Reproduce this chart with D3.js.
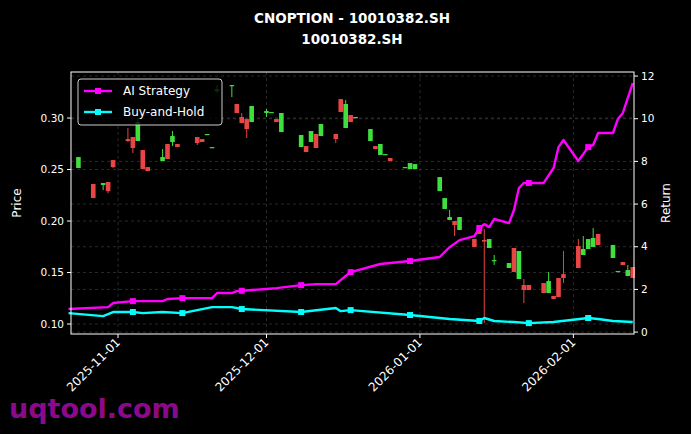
<!DOCTYPE html>
<html><head><meta charset="utf-8">
<script src="https://cdn.jsdelivr.net/npm/d3@7"></script>
<style>body{margin:0;background:#000}svg{display:block}text{font-family:"DejaVu Sans",sans-serif}</style>
</head><body><svg id="c" width="691" height="434"></svg>
<script>
// candles: date, open, high, low, close
const candleDates=["2025-10-24","2025-10-27","2025-10-29","2025-10-30","2025-10-31","2025-11-03","2025-11-04","2025-11-05","2025-11-06","2025-11-07","2025-11-10","2025-11-11","2025-11-12","2025-11-13","2025-11-17","2025-11-18","2025-11-19","2025-11-20","2025-11-21","2025-11-24","2025-11-25","2025-11-26","2025-11-27","2025-11-28","2025-12-01","2025-12-02","2025-12-03","2025-12-04","2025-12-08","2025-12-09","2025-12-10","2025-12-11","2025-12-12","2025-12-15","2025-12-16","2025-12-17","2025-12-18","2025-12-19","2025-12-22","2025-12-23","2025-12-24","2025-12-25","2025-12-26","2025-12-29","2025-12-30","2025-12-31","2026-01-05","2026-01-06","2026-01-07","2026-01-08","2026-01-09","2026-01-12","2026-01-13","2026-01-14","2026-01-15","2026-01-16","2026-01-19","2026-01-20","2026-01-21","2026-01-22","2026-01-23","2026-01-26","2026-01-27","2026-01-28","2026-01-29","2026-01-30","2026-02-02","2026-02-03","2026-02-04","2026-02-05","2026-02-06","2026-02-09","2026-02-10","2026-02-11","2026-02-12","2026-02-13"];
const opens =[0.2515,0.236,0.235,0.2379,0.2592,0.2796,0.2816,0.2777,0.2689,0.2524,0.2582,0.2748,0.2767,0.2748,0.2816,0.2796,0.2845,0.2718,0.326,0.332,0.3136,0.301,0.299,0.2961,0.3049,0.3058,0.299,0.2864,0.2718,0.2728,0.2767,0.2845,0.2825,0.2845,0.3184,0.2903,0.3029,0.301,0.2777,0.2728,0.2641,0.265,0.2612,0.2515,0.2505,0.2505,0.2291,0.2117,0.201,0.2,0.1913,0.1825,0.1961,0.1816,0.1738,0.1621,0.1544,0.1738,0.1437,0.1379,0.1379,0.1398,0.1301,0.1272,0.1447,0.1485,0.1757,0.167,0.1728,0.1748,0.1874,0.1641,0.1515,0.1602,0.1466,0.1553];
const highs =[0.2621,0.236,0.2369,0.2379,0.2592,0.2903,0.2816,0.30,0.2689,0.2524,0.2699,0.2748,0.2874,0.2748,0.2816,0.2796,0.2845,0.2718,0.332,0.332,0.3136,0.3049,0.299,0.3117,0.3087,0.3058,0.299,0.3049,0.2835,0.2728,0.2874,0.2845,0.2942,0.2845,0.3184,0.3175,0.3029,0.301,0.2893,0.2728,0.2748,0.265,0.2612,0.2524,0.2563,0.2553,0.2427,0.2223,0.2107,0.2,0.2039,0.1825,0.1961,0.1922,0.1825,0.167,0.1592,0.1738,0.1709,0.1437,0.1379,0.1398,0.1505,0.1272,0.1447,0.1709,0.1825,0.1854,0.1825,0.1932,0.1874,0.1767,0.1515,0.1602,0.1573,0.1553];
const lows  =[0.2515,0.2223,0.230,0.227,0.2515,0.2767,0.266,0.2777,0.2505,0.2485,0.2582,0.2602,0.2728,0.2718,0.2738,0.2767,0.2845,0.2718,0.3243,0.3204,0.3049,0.2951,0.2806,0.2961,0.3010,0.3058,0.2961,0.2864,0.2718,0.267,0.2767,0.2709,0.2825,0.2757,0.3058,0.2903,0.2961,0.301,0.2777,0.2699,0.2641,0.265,0.2582,0.2515,0.2505,0.2505,0.2291,0.2117,0.201,0.1854,0.1913,0.1748,0.1874,0.101,0.1738,0.1573,0.1544,0.1505,0.1437,0.1204,0.133,0.1301,0.1301,0.1243,0.1262,0.1398,0.1544,0.167,0.1728,0.1748,0.1767,0.1641,0.1515,0.1573,0.1466,0.1447];
const closes=[0.2621,0.2223,0.2369,0.229,0.2524,0.2777,0.2709,0.2961,0.2505,0.2485,0.2621,0.2602,0.2825,0.2718,0.2757,0.2767,0.2845,0.2718,0.328,0.3320,0.3049,0.2951,0.2893,0.3117,0.3068,0.3058,0.2961,0.3049,0.2835,0.267,0.2874,0.2709,0.2942,0.2796,0.3058,0.3136,0.2961,0.301,0.2893,0.2699,0.2748,0.265,0.2582,0.2524,0.2563,0.2553,0.2427,0.2223,0.2039,0.1961,0.2039,0.1748,0.1874,0.1800,0.1825,0.1621,0.1592,0.1505,0.1709,0.133,0.133,0.1301,0.1417,0.1243,0.1262,0.1447,0.1544,0.1728,0.1825,0.1835,0.1767,0.1767,0.1515,0.1573,0.1524,0.1447];

const aiDates=["2025-10-22","2025-10-30","2025-10-31","2025-11-04","2025-11-10","2025-11-11","2025-11-14","2025-11-20","2025-11-21","2025-11-24","2025-11-25","2025-11-28","2025-12-01","2025-12-03","2025-12-08","2025-12-11","2025-12-15","2025-12-17","2025-12-18","2025-12-24","2025-12-30","2026-01-05","2026-01-07","2026-01-09","2026-01-12","2026-01-13","2026-01-14","2026-01-15","2026-01-16","2026-01-19","2026-01-20","2026-01-21","2026-01-22","2026-01-26","2026-01-28","2026-01-29","2026-01-30","2026-02-02","2026-02-04","2026-02-05","2026-02-06","2026-02-09","2026-02-10","2026-02-11","2026-02-13"];
const aiReturn=[1.08,1.17,1.36,1.45,1.45,1.55,1.59,1.59,1.83,1.83,1.92,1.97,2.02,2.06,2.2,2.25,2.25,2.63,2.81,3.19,3.33,3.52,3.98,4.31,4.5,4.88,5.06,4.92,5.3,5.11,5.72,6.75,6.99,6.99,7.69,8.67,9.0,8.02,8.67,8.77,9.33,9.33,9.99,10.27,11.67];
const bhDates=["2025-10-22","2025-10-29","2025-10-31","2025-11-04","2025-11-06","2025-11-10","2025-11-14","2025-11-20","2025-11-24","2025-11-26","2025-12-08","2025-12-15","2025-12-16","2025-12-18","2025-12-30","2026-01-07","2026-01-13","2026-01-14","2026-01-16","2026-01-20","2026-01-23","2026-01-28","2026-02-04","2026-02-06","2026-02-09","2026-02-13"];
const bhReturn=[0.89,0.75,0.94,0.94,0.89,0.94,0.89,1.17,1.17,1.08,0.94,1.13,0.98,1.03,0.8,0.61,0.52,0.66,0.52,0.47,0.42,0.47,0.66,0.61,0.52,0.47];
const markerDates=["2025-11-04","2025-11-14","2025-11-26","2025-12-08","2025-12-18","2025-12-30","2026-01-13","2026-01-23","2026-02-04"];
const xTicks=["2025-11-01","2025-12-01","2026-01-01","2026-02-01"];
const priceTicks=[0.10,0.15,0.20,0.25,0.30];
const returnTicks=[0,2,4,6,8,10,12];

const P=d3.timeParse("%Y-%m-%d");
const svg=d3.select("#c");
const L=71,R=634,T=72,B=334;
const x=d3.scaleTime().domain([new Date(2025,9,22,12),new Date(2026,1,13,6)]).range([L,R]);
const y=d3.scaleLinear().domain([0.0903,0.3447]).range([B,T]);
const y2=d3.scaleLinear().domain([-0.09,12.19]).range([B,T]);
svg.append("rect").attr("width",691).attr("height",434).attr("fill","#000");
const g=svg.append("g").attr("stroke","#444").attr("stroke-dasharray","3,3").attr("stroke-width",0.6);
xTicks.forEach(t=>g.append("line").attr("x1",x(P(t))).attr("x2",x(P(t))).attr("y1",T).attr("y2",B));
priceTicks.forEach(t=>g.append("line").attr("x1",L).attr("x2",R).attr("y1",y(t)).attr("y2",y(t)));
returnTicks.forEach(t=>g.append("line").attr("x1",L).attr("x2",R).attr("y1",y2(t)).attr("y2",y2(t)));
const cg=svg.append("g");
candleDates.forEach((d,i)=>{
  const o=opens[i],c=closes[i],h=highs[i],l=lows[i];
  const col=c>=o?"#3ee03e":"#e84545";
  const cx=x(P(d));
  cg.append("line").attr("x1",cx).attr("x2",cx).attr("y1",y(h)).attr("y2",y(l)).attr("stroke",col).attr("stroke-width",1);
  const top=y(Math.max(o,c)),bot=y(Math.min(o,c));
  cg.append("rect").attr("x",cx-2.3).attr("width",4.6).attr("y",top).attr("height",Math.max(1.2,bot-top)).attr("fill",col);
});
function series(dates,vals,col){
  const pd=dates.map(P);
  const pts=pd.map((d,i)=>[x(d),y2(vals[i])]);
  svg.append("path").attr("d",d3.line()(pts)).attr("fill","none").attr("stroke",col).attr("stroke-width",2.4).attr("stroke-linejoin","round");
  markerDates.forEach(m=>{
    const t=P(m);const i=d3.bisectLeft(pd,t);
    let v;
    if(i<=0)v=vals[0];else if(i>=pd.length)v=vals[vals.length-1];
    else{const a=pd[i-1],b=pd[i];v=vals[i-1]+(vals[i]-vals[i-1])*((t-a)/(b-a));}
    svg.append("rect").attr("x",x(t)-3).attr("y",y2(v)-3).attr("width",6).attr("height",6).attr("fill",col);
  });
}
series(aiDates,aiReturn,"#ff00ff");
series(bhDates,bhReturn,"#00ffff");
svg.append("rect").attr("x",L).attr("y",T).attr("width",R-L).attr("height",B-T).attr("fill","none").attr("stroke","#fff").attr("stroke-width",1);
const fs="10.5px";
priceTicks.forEach(t=>{svg.append("line").attr("x1",L-4).attr("x2",L).attr("y1",y(t)).attr("y2",y(t)).attr("stroke","#fff");
  svg.append("text").attr("x",L-7).attr("y",y(t)).attr("dy","0.35em").attr("text-anchor","end").attr("fill","#fff").attr("font-size",fs).text(t.toFixed(2));});
returnTicks.forEach(t=>{svg.append("line").attr("x1",R).attr("x2",R+4).attr("y1",y2(t)).attr("y2",y2(t)).attr("stroke","#fff");
  svg.append("text").attr("x",R+7).attr("y",y2(t)).attr("dy","0.35em").attr("fill","#fff").attr("font-size",fs).text(t);});
xTicks.forEach(t=>{const xx=x(P(t));svg.append("line").attr("x1",xx).attr("x2",xx).attr("y1",B).attr("y2",B+4).attr("stroke","#fff");
  svg.append("text").attr("transform",`translate(${xx+3},${B+9}) rotate(-45)`).attr("text-anchor","end").attr("fill","#fff").attr("font-size","12px").text(t);});
svg.append("text").attr("transform","translate(21,203) rotate(-90)").attr("text-anchor","middle").attr("fill","#fff").attr("font-size","12px").text("Price");
svg.append("text").attr("transform","translate(670,203) rotate(-90)").attr("text-anchor","middle").attr("fill","#fff").attr("font-size","12px").text("Return");
svg.append("text").attr("x",352).attr("y",23).attr("text-anchor","middle").attr("fill","#fff").attr("font-size","13.5px").attr("font-weight","bold").text("CNOPTION - 10010382.SH");
svg.append("text").attr("x",352).attr("y",44).attr("text-anchor","middle").attr("fill","#fff").attr("font-size","13.5px").attr("font-weight","bold").text("10010382.SH");
const lg=svg.append("g");
lg.append("rect").attr("x",78).attr("y",79).attr("width",144).attr("height",46).attr("rx",3).attr("fill","#000").attr("fill-opacity",0.8).attr("stroke","#ccc");
[["AI Strategy","#ff00ff",91],["Buy-and-Hold","#00ffff",112]].forEach(([n,c,yy])=>{
  lg.append("line").attr("x1",84).attr("x2",112).attr("y1",yy).attr("y2",yy).attr("stroke",c).attr("stroke-width",2.4);
  lg.append("rect").attr("x",95).attr("y",yy-3).attr("width",6).attr("height",6).attr("fill",c);
  lg.append("text").attr("x",123).attr("y",yy).attr("dy","0.35em").attr("fill","#fff").attr("font-size","12px").text(n);
});
svg.append("text").attr("x",9).attr("y",418).attr("fill","#8b0a8b").attr("font-size","27px").attr("font-weight","bold").text("uqtool.com");
</script></body></html>
